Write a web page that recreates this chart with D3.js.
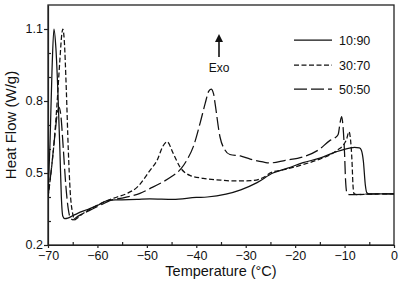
<!DOCTYPE html>
<html><head><meta charset="utf-8">
<script src="https://cdn.jsdelivr.net/npm/d3@7"></script>
<style>body{margin:0;background:#fff}svg{display:block}text{font-family:"Liberation Sans",Arial,sans-serif;fill:#111}</style>
</head><body><svg id="c" width="400" height="284"></svg>
<script>
const xTicks = [-70,-60,-50,-40,-30,-20,-10,0];
const xMinor = [-65,-55,-45,-35,-25,-15,-5];
const yTicks = [0.2,0.5,0.8,1.1];
const yMinor = [0.3,0.4,0.6,0.7,0.9,1.0];
const seriesNames = ["10:90","30:70","50:50"];

const t1090 = [-70,-69.6,-69.2,-68.8,-68.4,-68.0,-67.6,-67.3,-67.0,-66.6,-66.0,-65,-64,-62,-60,-58,-56,-52,-49.4,-44.7,-40,-37.8,-34,-31,-27.7,-24.5,-21.5,-18.4,-15,-11.6,-9,-8,-7,-6.6,-6.2,-5.8,-5.5,-5,-3,0];
const v1090 = [0.40,0.62,0.92,1.10,1.02,0.84,0.60,0.40,0.32,0.31,0.312,0.322,0.332,0.348,0.365,0.385,0.388,0.39,0.392,0.39,0.398,0.40,0.412,0.43,0.46,0.50,0.52,0.543,0.562,0.589,0.604,0.607,0.605,0.595,0.55,0.45,0.418,0.413,0.413,0.413];

const t3070 = [-70,-69.4,-68.8,-68.2,-67.6,-67.2,-67.0,-66.7,-66.3,-65.9,-65.5,-65.0,-64.6,-64.2,-63,-61,-58,-56,-54,-52,-49.4,-47.9,-46.8,-45.9,-44.7,-43.3,-41.3,-38.6,-35,-32.6,-29,-25.7,-25.1,-22,-18.4,-15,-13,-11.5,-10.3,-9.6,-9.1,-8.8,-8.5,-8.3,-8.1,-7.5,-5,0];
const v3070 = [0.40,0.50,0.62,0.78,0.97,1.08,1.10,1.05,0.85,0.60,0.42,0.33,0.305,0.31,0.33,0.355,0.385,0.40,0.415,0.44,0.51,0.554,0.61,0.63,0.583,0.525,0.49,0.478,0.47,0.467,0.468,0.49,0.50,0.515,0.535,0.558,0.575,0.595,0.615,0.64,0.672,0.64,0.55,0.45,0.415,0.41,0.412,0.413];

const t5050 = [-70,-69.3,-68.6,-68.1,-67.8,-67.4,-66.9,-66.4,-65.9,-65.4,-64.9,-64.3,-63,-61,-59,-57.5,-55,-53,-51.4,-49.4,-47,-45,-43,-41.9,-40.6,-39.2,-38.2,-37.5,-37.0,-36.5,-36.2,-35.2,-34.2,-33.2,-31.1,-29.1,-26.5,-25.1,-22,-18.4,-15,-13,-12,-11.3,-10.9,-10.6,-10.3,-10.0,-9.8,-9.5,-9,-5,0];
const v5050 = [0.40,0.52,0.66,0.75,0.775,0.74,0.60,0.45,0.35,0.31,0.305,0.315,0.33,0.35,0.37,0.385,0.395,0.405,0.415,0.435,0.46,0.485,0.52,0.554,0.61,0.71,0.79,0.84,0.85,0.83,0.79,0.65,0.596,0.577,0.571,0.558,0.546,0.542,0.553,0.567,0.60,0.635,0.645,0.66,0.71,0.735,0.69,0.58,0.47,0.415,0.41,0.412,0.413];

const series = [
  {name: seriesNames[0], t: t1090, v: v1090, dash: null},
  {name: seriesNames[1], t: t3070, v: v3070, dash: "5,2.5"},
  {name: seriesNames[2], t: t5050, v: v5050, dash: "13,4"}
];

const svg = d3.select("#c");
const L = 48, R = 394, T = 5, B = 245;
const x = d3.scaleLinear().domain([-70,0]).range([L,R]);
const y = d3.scaleLinear().domain([0.2,1.2]).range([B,T]);

svg.append("defs").append("clipPath").attr("id","clip")
  .append("rect").attr("x",L).attr("y",T).attr("width",R-L).attr("height",B-T);

// axes
const gx = svg.append("g").attr("transform",`translate(0,${B})`)
  .call(d3.axisBottom(x).tickValues(xTicks).tickSize(3).tickSizeOuter(0).tickFormat(d3.format("d")));
gx.selectAll("text").attr("font-size","12.5px").attr("y",6).attr("dy","0.71em").style("font-family",'"Liberation Sans",Arial,sans-serif');
const gxm = svg.append("g").attr("transform",`translate(0,${B})`)
  .call(d3.axisBottom(x).tickValues(xMinor).tickSize(-3).tickFormat(""));
gxm.select(".domain").remove();

const gy = svg.append("g").attr("transform",`translate(${L},0)`)
  .call(d3.axisLeft(y).tickValues(yTicks).tickSize(4).tickSizeOuter(0).tickFormat(d3.format(".1f")));
gy.selectAll("text").attr("font-size","12.5px").attr("x",-5).attr("dy","0.3em").style("font-family",'"Liberation Sans",Arial,sans-serif');
const gym = svg.append("g").attr("transform",`translate(${L},0)`)
  .call(d3.axisLeft(y).tickValues(yMinor).tickSize(-3).tickFormat(""));
gym.select(".domain").remove();

svg.selectAll(".domain, .tick line").attr("stroke","#222").attr("stroke-width",1.2);

// frame
svg.append("rect").attr("x",L).attr("y",T).attr("width",R-L).attr("height",B-T)
  .attr("fill","none").attr("stroke","#222").attr("stroke-width",1.3);

// lines
const line = d3.line().curve(d3.curveMonotoneX);
const pg = svg.append("g").attr("clip-path","url(#clip)");
series.forEach(s => {
  const pts = s.t.map((t,i)=>[x(t), y(s.v[i])]);
  pg.append("path").attr("d", line(pts)).attr("fill","none")
    .attr("stroke","#111").attr("stroke-width",1.25)
    .attr("stroke-dasharray", s.dash);
});

// legend
const legY = [40,65,89];
series.forEach((s,i) => {
  svg.append("line").attr("x1",294).attr("x2",332).attr("y1",legY[i]).attr("y2",legY[i])
    .attr("stroke","#111").attr("stroke-width",1.25).attr("stroke-dasharray", s.dash);
  svg.append("text").attr("x",339).attr("y",legY[i]).attr("dy","0.36em")
    .attr("font-size","12.5px").text(s.name);
});

// Exo arrow
svg.append("line").attr("x1",219).attr("x2",219).attr("y1",38).attr("y2",57)
  .attr("stroke","#111").attr("stroke-width",1.6);
svg.append("path").attr("d","M219,34 L215,42 L223,42 Z").attr("fill","#111");
svg.append("text").attr("x",219).attr("y",72).attr("text-anchor","middle").attr("font-size","12px").text("Exo");

// axis titles
svg.append("text").attr("x",(L+R)/2).attr("y",276).attr("text-anchor","middle")
  .attr("font-size","14.5px").text("Temperature (°C)");
svg.append("text").attr("transform",`translate(16,${(T+B)/2}) rotate(-90)`).attr("text-anchor","middle")
  .attr("font-size","15px").text("Heat Flow (W/g)");
</script></body></html>
